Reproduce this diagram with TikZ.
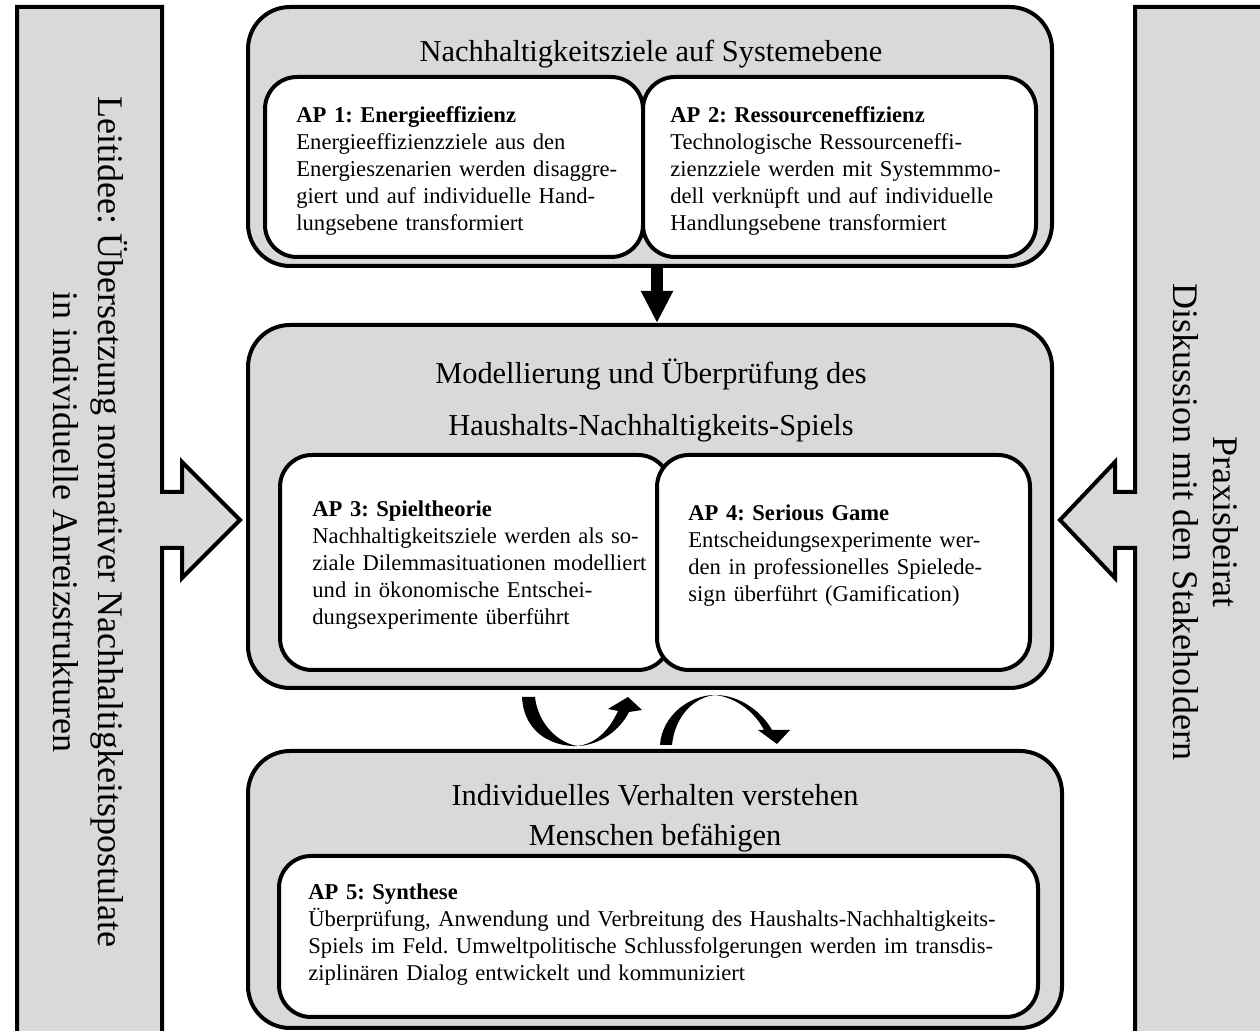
\documentclass[tikz,border=0pt]{standalone}
\usepackage{fontspec}
\setmainfont{Liberation Serif}
\frenchspacing
\usetikzlibrary{fit,arrows.meta}
\definecolor{boxgray}{HTML}{D9D9D9}
\tikzset{
 outerbox/.style={draw=black, line width=2pt, fill=boxgray, rounded corners=21pt, inner sep=0pt},
 innerbox/.style={draw=black, line width=2pt, fill=white, rounded corners=16pt, inner sep=0pt},
 barshape/.style={draw=black, line width=2pt, fill=boxgray, line join=miter, miter limit=10},
 body/.style={font=\fontsize{11.3}{13.5}\selectfont, align=left, text width=360pt, inner sep=0pt, anchor=base west},
 title/.style={font=\fontsize{15.2}{26}\selectfont, inner sep=0pt, anchor=base},
 vert/.style={font=\fontsize{18}{22.5}\selectfont, align=center, rotate=-90, inner sep=0pt},
 curvearrow/.style={fill=black},
}
\begin{document}
\begin{tikzpicture}[x=0.5pt,y=-0.5pt]
\useasboundingbox (0,0) rectangle (1260,1031);
\clip (0,0) rectangle (1260,1031);

% side bars with block arrows
\path[barshape] (162,548) -- (162,1100) -- (17,1100) -- (17,7) -- (162,7) -- (162,492)
  -- (182,492) -- (182,462) -- (240,520) -- (182,578) -- (182,548) -- cycle;
\path[barshape] (1135,492) -- (1135,7) -- (1300,7) -- (1300,1100) -- (1135,1100) -- (1135,548)
  -- (1115,548) -- (1115,578) -- (1060,520) -- (1115,462) -- (1115,492) -- cycle;

\node[vert] (lefttext) at (90,522) {Leitidee: Übersetzung normativer Nachhaltigkeitspostulate\\in individuelle Anreizstrukturen};
\node[vert, font=\fontsize{18}{20}\selectfont] (righttext) at (1206,522) {Praxisbeirat\\Diskussion mit den Stakeholdern};

% outer boxes
\node[outerbox, fit={(248,7) (1052,266)}] (top) {};
\node[outerbox, fit={(248,325) (1052,688)}] (mid) {};
\node[outerbox, fit={(248,751) (1062,1028)}] (bot) {};

% inner boxes
\node[innerbox, fit={(265,77) (643,257)}] (ap1) {};
\node[innerbox, fit={(643,77) (1036,257)}] (ap2) {};
\node[innerbox, fit={(280,455) (670,670)}] (ap3) {};
\node[innerbox, fit={(657,455) (1030,670)}] (ap4) {};
\node[innerbox, fit={(279,856) (1038,1017)}] (ap5) {};

% titles
\node[title] (toptitle) at (651,62) {Nachhaltigkeitsziele auf Systemebene};
\node[title] (midtitle1) at (651,384) {Modellierung und Überprüfung des};
\node[title] (midtitle2) at (651,436) {Haushalts-Nachhaltigkeits-Spiels};
\node[title] (bottitle1) at (655,806) {Individuelles Verhalten verstehen};
\node[title] (bottitle2) at (655,846) {Menschen befähigen};

% texts
\node[body] (t1) at (296,123) {\textbf{AP 1: Energieeffizienz}\\Energieeffizienzziele aus den\\Energieszenarien werden disaggre-\\giert und auf individuelle Hand-\\lungsebene transformiert};
\node[body] (t2) at (670,123) {\textbf{AP 2: Ressourceneffizienz}\\Technologische Ressourceneffi-\\zienzziele werden mit Systemmmo-\\dell verknüpft und auf individuelle\\Handlungsebene transformiert};
\node[body] (t3) at (312,517) {\textbf{AP 3: Spieltheorie}\\Nachhaltigkeitsziele werden als so-\\ziale Dilemmasituationen modelliert\\und in ökonomische Entschei-\\dungsexperimente überführt};
\node[body] (t4) at (688,521) {\textbf{AP 4: Serious Game}\\Entscheidungsexperimente wer-\\den in professionelles Spielede-\\sign überführt (Gamification)};
\node[body] (t5) at (308,900) {\textbf{AP 5: Synthese}\\Überprüfung, Anwendung und Verbreitung des Haushalts-Nachhaltigkeits-\\Spiels im Feld. Umweltpolitische Schlussfolgerungen werden im transdis-\\ziplinären Dialog entwickelt und kommuniziert};

% down arrow
\coordinate (arrowx) at (657,0);
\draw[line width=6pt, -{Triangle[width=15pt,length=16pt]}] (top.south -| arrowx) -- (mid.north -| arrowx);

% curved arrows
\path[curvearrow] (522,697) .. controls (524,735) and (555,747) .. (578,746)
  .. controls (600,745) and (620,730) .. (629,712) -- (642,710) -- (628,697) -- (608,709) -- (618,711)
  .. controls (607,735) and (592,744) .. (578,746)
  .. controls (560,744) and (538,725) .. (535,697) -- cycle;
\path[curvearrow] (660,745) .. controls (662,715) and (690,695) .. (715,695)
  .. controls (740,695) and (762,712) .. (772,730) -- (790,730) -- (777,744) -- (758,730) -- (764,730)
  .. controls (755,712) and (735,697) .. (715,695)
  .. controls (695,697) and (675,715) .. (672,745) -- cycle;
\end{tikzpicture}
\end{document}
